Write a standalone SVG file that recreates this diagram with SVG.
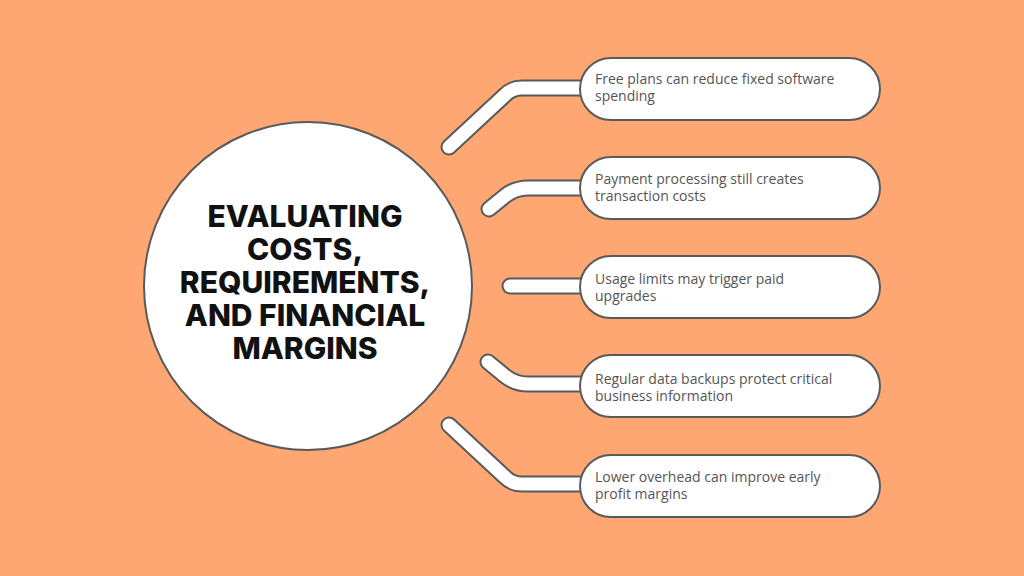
<svg xmlns="http://www.w3.org/2000/svg" width="1024" height="576" viewBox="0 0 1024 576">
<style>
.o{fill:none;stroke:#5a5a5a;stroke-width:17;stroke-linecap:round;stroke-linejoin:round}
.i{fill:none;stroke:#fff;stroke-width:13;stroke-linecap:round;stroke-linejoin:round}
.p{fill:#fff;stroke:#5a5a5a;stroke-width:2}
.t{font-family:"Open Sans","Liberation Sans",sans-serif;font-size:14px;fill:#555}
.h{font-family:Inter,"Liberation Sans",sans-serif;font-size:30px;font-weight:800;fill:#111;text-anchor:middle}
</style>
<rect width="1024" height="576" fill="#fea772"/>
<g id="connectors">
<path class="o" d="M449 147 L505 95 Q512 88 522 88 L600 88"/>
<path class="i" d="M449 147 L505 95 Q512 88 522 88 L600 88"/>
<path class="o" d="M489 209 L505 196 Q515 188 528 188 L600 188"/>
<path class="i" d="M489 209 L505 196 Q515 188 528 188 L600 188"/>
<path class="o" d="M510 286 L600 286"/>
<path class="i" d="M510 286 L600 286"/>
<path class="o" d="M488 362 L505 376 Q515 384 528 384 L600 384"/>
<path class="i" d="M488 362 L505 376 Q515 384 528 384 L600 384"/>
<path class="o" d="M449 425 L505 477 Q512 484 522 484 L600 484"/>
<path class="i" d="M449 425 L505 477 Q512 484 522 484 L600 484"/>
</g>
<g id="center">
<circle cx="308" cy="286" r="164" fill="#fff" stroke="#5a5a5a" stroke-width="2"/>
<text class="h"><tspan x="305" y="227">EVALUATING</tspan><tspan x="305" y="260">COSTS,</tspan><tspan x="305" y="293">REQUIREMENTS,</tspan><tspan x="305" y="326">AND FINANCIAL</tspan><tspan x="305" y="359">MARGINS</tspan></text>
</g>
<g id="n1"><rect class="p" x="580" y="58" width="300" height="62" rx="31"/><text class="t"><tspan x="595" y="84">Free plans can reduce fixed software</tspan><tspan x="595" y="101">spending</tspan></text></g>
<g id="n2"><rect class="p" x="580" y="157" width="300" height="62" rx="31"/><text class="t"><tspan x="595" y="184">Payment processing still creates</tspan><tspan x="595" y="201">transaction costs</tspan></text></g>
<g id="n3"><rect class="p" x="580" y="256" width="300" height="62" rx="31"/><text class="t"><tspan x="595" y="284">Usage limits may trigger paid</tspan><tspan x="595" y="301">upgrades</tspan></text></g>
<g id="n4"><rect class="p" x="580" y="355" width="300" height="62" rx="31"/><text class="t"><tspan x="595" y="384">Regular data backups protect critical</tspan><tspan x="595" y="401">business information</tspan></text></g>
<g id="n5"><rect class="p" x="580" y="455" width="300" height="62" rx="31"/><text class="t"><tspan x="595" y="482">Lower overhead can improve early</tspan><tspan x="595" y="499">profit margins</tspan></text></g>
</svg>
